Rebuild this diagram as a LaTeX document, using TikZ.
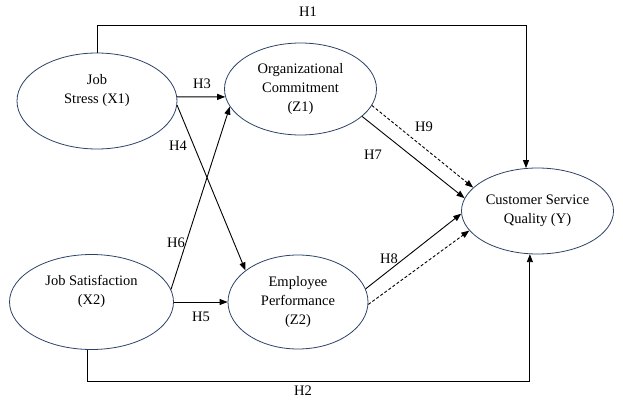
\documentclass[tikz,border=0pt]{standalone}
\usepackage{fontspec}
\setmainfont{Liberation Serif}
\usetikzlibrary{shapes.geometric,arrows.meta}
\definecolor{ellblue}{RGB}{44,66,104}
\begin{document}
\begin{tikzpicture}[x=1pt,y=-1pt,
  every node/.style={font=\fontsize{14.5}{19}\selectfont},
  var/.style={draw=ellblue,line width=0.8pt,ellipse,inner sep=0pt,align=center},
  link/.style={draw=black,line width=0.9pt,-{Triangle[length=8pt,width=6pt]}},
  dlink/.style={link,dash pattern=on 3pt off 2pt},
  plain/.style={draw=black,line width=0.9pt},
  hlab/.style={inner sep=0pt}]
\useasboundingbox (0,0) rectangle (623,409);
% variables
\node[var,minimum width=160pt,minimum height=96pt] (x1) at (97,101) {Job\\Stress (X1)\\\strut};
\node[var,minimum width=152pt,minimum height=92pt] (z1) at (300.5,89) {Organizational\\Commitment\\(Z1)};
\node[var,minimum width=164pt,minimum height=95pt] (x2) at (91.5,302) {Job Satisfaction\\(X2)\\\strut};
\node[var,minimum width=140pt,minimum height=94pt] (z2) at (298,302) {Employee\\Performance\\(Z2)};
\node[var,minimum width=152pt,minimum height=86pt] (y) at (537.5,211) {Customer Service\\Quality (Y)};
% helper coordinates
\coordinate (h1top) at (300,25);
\coordinate (h2bot) at (300,381);
% connectors
\draw[plain] (x1.north) |- (h1top);
\draw[link] (h1top) -| (y.105);
\draw[plain] (x2.-95) |- (h2bot);
\draw[link] (h2bot) -| (y.-100);
\draw[link] (x1.3) -- (z1.186);
\draw[link] (x1.-3) -- (z2.149);
\draw[link] (x2.9) -- (z1.194);
\draw[link] (x2.east) -- (z2.west);
\draw[link] (z1.-24) -- (y.170);
\draw[dlink] (z1.-13) -- (y.160);
\draw[link] (z2.11) -- (y.182);
\draw[dlink] (z2.-2) -- (y.196);
% labels
\node[hlab] (lh1) at (308,12) {H1};
\node[hlab] (lh2) at (303,391) {H2};
\node[hlab] (lh3) at (202,84) {H3};
\node[hlab] (lh4) at (178,146) {H4};
\node[hlab] (lh5) at (201,317) {H5};
\node[hlab] (lh6) at (176,243) {H6};
\node[hlab] (lh7) at (373,155) {H7};
\node[hlab] (lh8) at (389,259) {H8};
\node[hlab] (lh9) at (424,127) {H9};
\end{tikzpicture}
\end{document}
